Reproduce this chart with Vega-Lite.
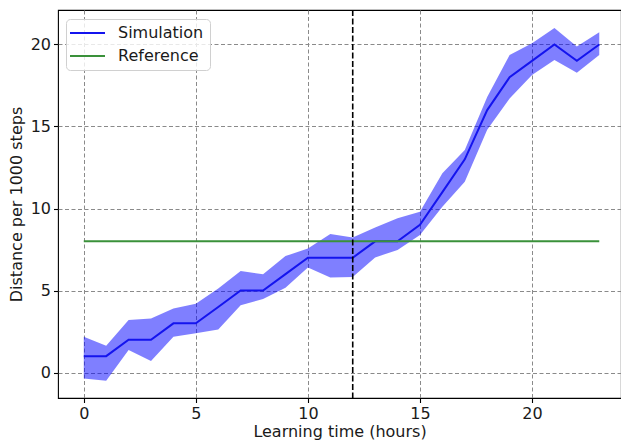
{
  "$schema": "https://vega.github.io/schema/vega-lite/v6.json",
  "width": 563,
  "height": 388,
  "autosize": "none",
  "padding": {"left": 58, "top": 10, "right": 0, "bottom": 43},
  "background": "white",
  "config": {
    "view": {"stroke": "#000000", "strokeWidth": 1.1},
    "font": "DejaVu Sans",
    "axis": {
      "labelFont": "DejaVu Sans",
      "titleFont": "DejaVu Sans",
      "labelFontSize": 16,
      "titleFontSize": 16,
      "titleFontWeight": "normal",
      "labelColor": "#1a1a1a",
      "titleColor": "#1a1a1a",
      "tickColor": "#000000",
      "tickSize": 4.5,
      "tickWidth": 1.1,
      "domain": false,
      "grid": true,
      "gridColor": "#8a8a8a",
      "gridDash": [4, 2.5],
      "gridWidth": 1,
      "labelPadding": 3
    }
  },
  "data": {
    "values": [
      {"t": 0, "series": "Simulation", "value": 1, "lo": -0.36, "hi": 2.18},
      {"t": 1, "series": "Simulation", "value": 1, "lo": -0.5, "hi": 1.64},
      {"t": 2, "series": "Simulation", "value": 2, "lo": 1.37, "hi": 3.2},
      {"t": 3, "series": "Simulation", "value": 2, "lo": 0.7, "hi": 3.3},
      {"t": 4, "series": "Simulation", "value": 3, "lo": 2.18, "hi": 3.9},
      {"t": 5, "series": "Simulation", "value": 3, "lo": 2.4, "hi": 4.2},
      {"t": 6, "series": "Simulation", "value": 4, "lo": 2.63, "hi": 5.13},
      {"t": 7, "series": "Simulation", "value": 5, "lo": 4.1, "hi": 6.19},
      {"t": 8, "series": "Simulation", "value": 5, "lo": 4.48, "hi": 5.99},
      {"t": 9, "series": "Simulation", "value": 6, "lo": 5.17, "hi": 7.1},
      {"t": 10, "series": "Simulation", "value": 7, "lo": 6.41, "hi": 7.57},
      {"t": 11, "series": "Simulation", "value": 7, "lo": 5.8, "hi": 8.45},
      {"t": 12, "series": "Simulation", "value": 7, "lo": 5.82, "hi": 8.24},
      {"t": 13, "series": "Simulation", "value": 8, "lo": 7.02, "hi": 8.85},
      {"t": 14, "series": "Simulation", "value": 8, "lo": 7.47, "hi": 9.4},
      {"t": 15, "series": "Simulation", "value": 9, "lo": 8.38, "hi": 9.8},
      {"t": 16, "series": "Simulation", "value": 11, "lo": 10.1, "hi": 12.15},
      {"t": 17, "series": "Simulation", "value": 13, "lo": 11.63, "hi": 13.57},
      {"t": 18, "series": "Simulation", "value": 16, "lo": 14.8, "hi": 16.8},
      {"t": 19, "series": "Simulation", "value": 18, "lo": 16.7, "hi": 19.36},
      {"t": 20, "series": "Simulation", "value": 19, "lo": 18.14, "hi": 20.07},
      {"t": 21, "series": "Simulation", "value": 20, "lo": 19.05, "hi": 21.0},
      {"t": 22, "series": "Simulation", "value": 19, "lo": 18.28, "hi": 19.87},
      {"t": 23, "series": "Simulation", "value": 20, "lo": 19.36, "hi": 20.74},
      {"t": 0, "series": "Reference", "value": 8},
      {"t": 23, "series": "Reference", "value": 8}
    ]
  },
  "encoding": {
    "x": {
      "field": "t",
      "type": "quantitative",
      "scale": {"domain": [-1.15, 23.97], "nice": false, "zero": false},
      "axis": {"values": [0, 5, 10, 15, 20], "title": "Learning time (hours)", "titlePadding": 2}
    }
  },
  "layer": [
    {
      "transform": [{"filter": "datum.series === 'Simulation'"}],
      "mark": {"type": "area", "color": "#0000ff", "opacity": 0.5},
      "encoding": {
        "y": {
          "field": "lo",
          "type": "quantitative",
          "scale": {"domain": [-1.55, 22.1], "nice": false, "zero": false},
          "axis": {"values": [0, 5, 10, 15, 20], "title": "Distance per 1000 steps", "titlePadding": 6}
        },
        "y2": {"field": "hi"}
      }
    },
    {
      "mark": {"type": "line", "strokeWidth": 2},
      "encoding": {
        "y": {"field": "value", "type": "quantitative"},
        "color": {
          "field": "series",
          "type": "nominal",
          "scale": {"domain": ["Simulation", "Reference"], "range": ["#1414ee", "#3a913a"]},
          "legend": {
            "title": null,
            "orient": "none",
            "legendX": 8,
            "legendY": 9,
            "symbolType": "M-2,0H5",
            "symbolSize": 100,
            "symbolStrokeWidth": 2,
            "labelFontSize": 16,
            "labelFont": "DejaVu Sans",
            "labelColor": "#1a1a1a",
            "labelOffset": 30,
            "rowPadding": 7,
            "padding": 6,
            "fillColor": "rgba(255,255,255,0.8)",
            "strokeColor": "#d0d0d0",
            "cornerRadius": 4
          }
        }
      }
    },
    {
      "data": {"values": [{"t": 12}]},
      "mark": {"type": "rule", "color": "#000000", "strokeWidth": 1.6, "strokeDash": [6, 2.5]},
      "encoding": {"x": {"field": "t", "type": "quantitative"}}
    }
  ]
}
